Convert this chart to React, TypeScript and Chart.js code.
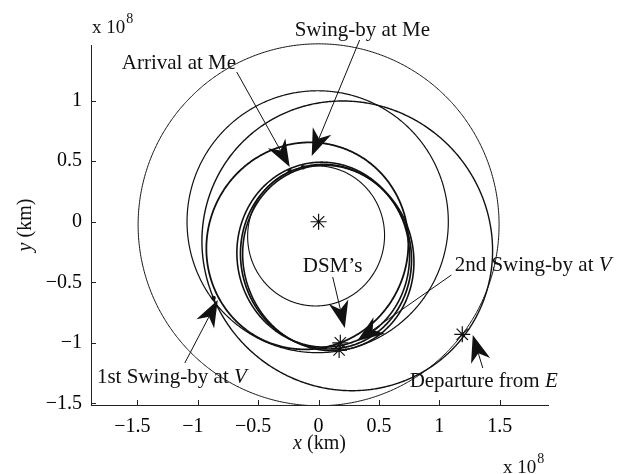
import { useEffect, useRef } from 'react';
import { Chart, registerables } from 'chart.js';

Chart.register(...registerables);

const W = 617;
const H = 474;

// axis limits and ticks, in units of 10^8 km
const xLimits = [-1.885, 1.9];
const yLimits = [-1.514, 1.46];
const xTicks = [-1.5, -1, -0.5, 0, 0.5, 1, 1.5];
const yTicks = [-1.5, -1, -0.5, 0, 0.5, 1];

// planetary orbits and trajectory legs as heliocentric conics (Sun at a focus)
const orbitNames = ['Earth', 'Venus', 'Mercury', 'Earth to Venus', 'Venus to Venus', 'Venus to Mercury', 'Mercury resonance 1', 'Mercury resonance 2'];
const semiMajor = [1.495, 1.082, 0.579, 1.22, 0.86, 0.765, 0.765, 0.77];
const eccentricity = [0.017, 0.007, 0.2056, 0.254, 0.256, 0.386, 0.359, 0.403];
const periapsisDeg = [90, 0, 80, 140, 65, 102, 98, 105];
const orbitLineWidth = [1, 1.2, 1.1, 1.4, 1.8, 1.7, 1.6, 1.6];

// Sun, Earth departure and deep-space manoeuvres
const starX = [0, 1.19, 0.18, 0.17];
const starY = [0, -0.93, -1.0, -1.06];
// flyby and arrival points
const dotX = [-0.87, -0.24, -0.13];
const dotY = [-0.63, 0.42, 0.45];

// event annotations: label, label anchor (left, baseline), arrow tail -> head
const noteText = ['Arrival at Me', 'Swing-by at Me', '1st Swing-by at ', 'DSM\u2019s', '2nd Swing-by at ', 'Departure from '];
const noteItalic = ['', '', 'V', '', 'V', 'E'];
const noteX = [-1.63, -0.198, -1.836, -0.131, 1.127, 0.754];
const noteY = [1.262, 1.534, -1.332, -0.413, -0.407, -1.366];
const tailX = [-0.678, 0.34, -1.108, 0.117, 1.1, 1.36];
const tailY = [1.237, 1.501, -1.167, -0.457, -0.44, -1.209];
const headX = [-0.239, -0.057, -0.835, 0.217, 0.319, 1.277];
const headY = [0.452, 0.543, -0.646, -0.878, -0.985, -0.936];

const SERIF = '"Liberation Serif", "Times New Roman", serif';
const INK = '#111';

// negative labels carry a trailing en space so the number sits like a typeset minus
const fmtX = (v: number) => (v < 0 ? '\u2212' + Math.abs(v) + '\u2002' : String(v));
const fmtY = (v: number) => (v < 0 ? '\u2212' + Math.abs(v) : String(v));

const orbitPlugin = {
  id: 'orbits',
  beforeDatasetsDraw(chart: any) {
    const { ctx, chartArea, scales } = chart;
    const sx = scales.x;
    const sy = scales.y;
    ctx.save();
    ctx.beginPath();
    ctx.rect(chartArea.left, chartArea.top - 3, chartArea.right - chartArea.left + 3, chartArea.bottom - chartArea.top + 3);
    ctx.clip();
    ctx.strokeStyle = INK;
    ctx.lineJoin = 'round';
    for (let k = 0; k < semiMajor.length; k++) {
      const a = semiMajor[k];
      const e = eccentricity[k];
      const w = (periapsisDeg[k] * Math.PI) / 180;
      const b = a * Math.sqrt(1 - e * e);
      const cx = -a * e * Math.cos(w);
      const cy = -a * e * Math.sin(w);
      ctx.beginPath();
      for (let i = 0; i <= 720; i++) {
        const t = (i * Math.PI) / 360;
        const u = a * Math.cos(t);
        const v = b * Math.sin(t);
        const px = sx.getPixelForValue(cx + u * Math.cos(w) - v * Math.sin(w));
        const py = sy.getPixelForValue(cy + u * Math.sin(w) + v * Math.cos(w));
        if (i === 0) ctx.moveTo(px, py);
        else ctx.lineTo(px, py);
      }
      ctx.closePath();
      ctx.lineWidth = orbitLineWidth[k];
      ctx.stroke();
    }
    ctx.restore();
  },
};

function drawArrow(ctx: CanvasRenderingContext2D, x0: number, y0: number, x1: number, y1: number) {
  const dx = x1 - x0;
  const dy = y1 - y0;
  const len = Math.hypot(dx, dy);
  const ux = dx / len;
  const uy = dy / len;
  const nx = -uy;
  const ny = ux;
  const L = 27;
  const HW = 10;
  const N = 19;
  ctx.beginPath();
  ctx.moveTo(x0, y0);
  ctx.lineTo(x1 - ux * N, y1 - uy * N);
  ctx.stroke();
  ctx.beginPath();
  ctx.moveTo(x1, y1);
  ctx.lineTo(x1 - ux * L + nx * HW, y1 - uy * L + ny * HW);
  ctx.lineTo(x1 - ux * N, y1 - uy * N);
  ctx.lineTo(x1 - ux * L - nx * HW, y1 - uy * L - ny * HW);
  ctx.closePath();
  ctx.fill();
}

const annotatePlugin = {
  id: 'annotate',
  afterDraw(chart: any) {
    const { ctx, chartArea, scales } = chart;
    const sx = scales.x;
    const sy = scales.y;
    ctx.save();
    ctx.strokeStyle = '#222';
    ctx.lineWidth = 1;
    // inward tick marks
    ctx.beginPath();
    for (const v of xTicks) {
      const px = Math.round(sx.getPixelForValue(v)) + 0.5;
      ctx.moveTo(px, chartArea.bottom);
      ctx.lineTo(px, chartArea.bottom - 5);
    }
    for (const v of yTicks) {
      const py = Math.round(sy.getPixelForValue(v)) + 0.5;
      ctx.moveTo(chartArea.left, py);
      ctx.lineTo(chartArea.left + 5, py);
    }
    ctx.stroke();

    // arrows
    ctx.strokeStyle = INK;
    ctx.fillStyle = INK;
    ctx.lineWidth = 1;
    for (let k = 0; k < noteText.length; k++) {
      drawArrow(
        ctx,
        sx.getPixelForValue(tailX[k]),
        sy.getPixelForValue(tailY[k]),
        sx.getPixelForValue(headX[k]),
        sy.getPixelForValue(headY[k])
      );
    }

    // labels
    ctx.textBaseline = 'alphabetic';
    ctx.textAlign = 'left';
    for (let k = 0; k < noteText.length; k++) {
      const px = sx.getPixelForValue(noteX[k]);
      const py = sy.getPixelForValue(noteY[k]);
      ctx.font = `21px ${SERIF}`;
      ctx.fillText(noteText[k], px, py);
      if (noteItalic[k]) {
        const wd = ctx.measureText(noteText[k]).width;
        ctx.font = `italic 21px ${SERIF}`;
        ctx.fillText(noteItalic[k], px + wd, py);
      }
    }

    // axis titles
    const midX = (chartArea.left + chartArea.right) / 2;
    ctx.font = `italic 20px ${SERIF}`;
    const xi = ctx.measureText('x ').width;
    ctx.font = `20px ${SERIF}`;
    const xr = ctx.measureText('(km)').width;
    let start = midX - (xi + xr) / 2;
    ctx.font = `italic 20px ${SERIF}`;
    ctx.fillText('x ', start, 449);
    ctx.font = `20px ${SERIF}`;
    ctx.fillText('(km)', start + xi, 449);

    ctx.save();
    ctx.translate(31, (chartArea.top + chartArea.bottom) / 2);
    ctx.rotate(-Math.PI / 2);
    ctx.font = `italic 20px ${SERIF}`;
    const yi = ctx.measureText('y ').width;
    start = -(yi + xr) / 2;
    ctx.fillText('y ', start, 0);
    ctx.font = `20px ${SERIF}`;
    ctx.fillText('(km)', start + yi, 0);
    ctx.restore();

    // scale factors
    const expo = (left: number, base: number) => {
      ctx.font = `19px ${SERIF}`;
      ctx.fillText('x 10', left, base);
      const w = ctx.measureText('x 10').width;
      ctx.font = `14px ${SERIF}`;
      ctx.fillText('8', left + w + 1, base - 10);
    };
    expo(92, 33);
    expo(503, 473);
    ctx.restore();
  },
};

export default function App() {
  const ref = useRef<HTMLCanvasElement>(null);

  useEffect(() => {
    if (!ref.current) return;
    const chart = new Chart(ref.current, {
      type: 'scatter',
      data: {
        datasets: [
          {
            label: 'events',
            data: starX.map((x, i) => ({ x, y: starY[i] })),
            pointStyle: 'star',
            pointRadius: 8,
            borderColor: INK,
            borderWidth: 1.2,
            backgroundColor: INK,
          },
          {
            label: 'flybys',
            data: dotX.map((x, i) => ({ x, y: dotY[i] })),
            pointStyle: 'circle',
            pointRadius: 2.3,
            borderWidth: 0,
            backgroundColor: INK,
          },
        ],
      },
      options: {
        animation: false,
        responsive: false,
        devicePixelRatio: 1,
        layout: { padding: { top: 45, right: 69, left: 0, bottom: 0 } },
        plugins: { legend: { display: false }, tooltip: { enabled: false } },
        scales: {
          x: {
            type: 'linear',
            min: xLimits[0],
            max: xLimits[1],
            afterBuildTicks: (s: any) => {
              s.ticks = xTicks.map((value) => ({ value }));
            },
            afterFit: (s: any) => {
              s.height = 69;
            },
            grid: { display: false, drawTicks: false },
            border: { display: true, color: '#222', width: 1 },
            ticks: {
              autoSkip: false,
              maxRotation: 0,
              padding: 10,
              color: '#000',
              font: { family: SERIF, size: 20 },
              callback: (v: any) => fmtX(Number(v)),
            },
          },
          y: {
            type: 'linear',
            min: yLimits[0],
            max: yLimits[1],
            afterBuildTicks: (s: any) => {
              s.ticks = yTicks.map((value) => ({ value }));
            },
            afterFit: (s: any) => {
              s.width = 91;
            },
            grid: { display: false, drawTicks: false },
            border: { display: true, color: '#222', width: 1 },
            ticks: {
              autoSkip: false,
              padding: 9,
              color: '#000',
              font: { family: SERIF, size: 20 },
              callback: (v: any) => fmtY(Number(v)),
            },
          },
        },
      },
      plugins: [orbitPlugin, annotatePlugin],
    });
    return () => chart.destroy();
  }, []);

  return (
    <div style={{ position: 'absolute', left: 0, top: 0, width: W, height: H, background: '#fff' }}>
      <canvas ref={ref} width={W} height={H} style={{ width: W, height: H }} />
    </div>
  );
}
